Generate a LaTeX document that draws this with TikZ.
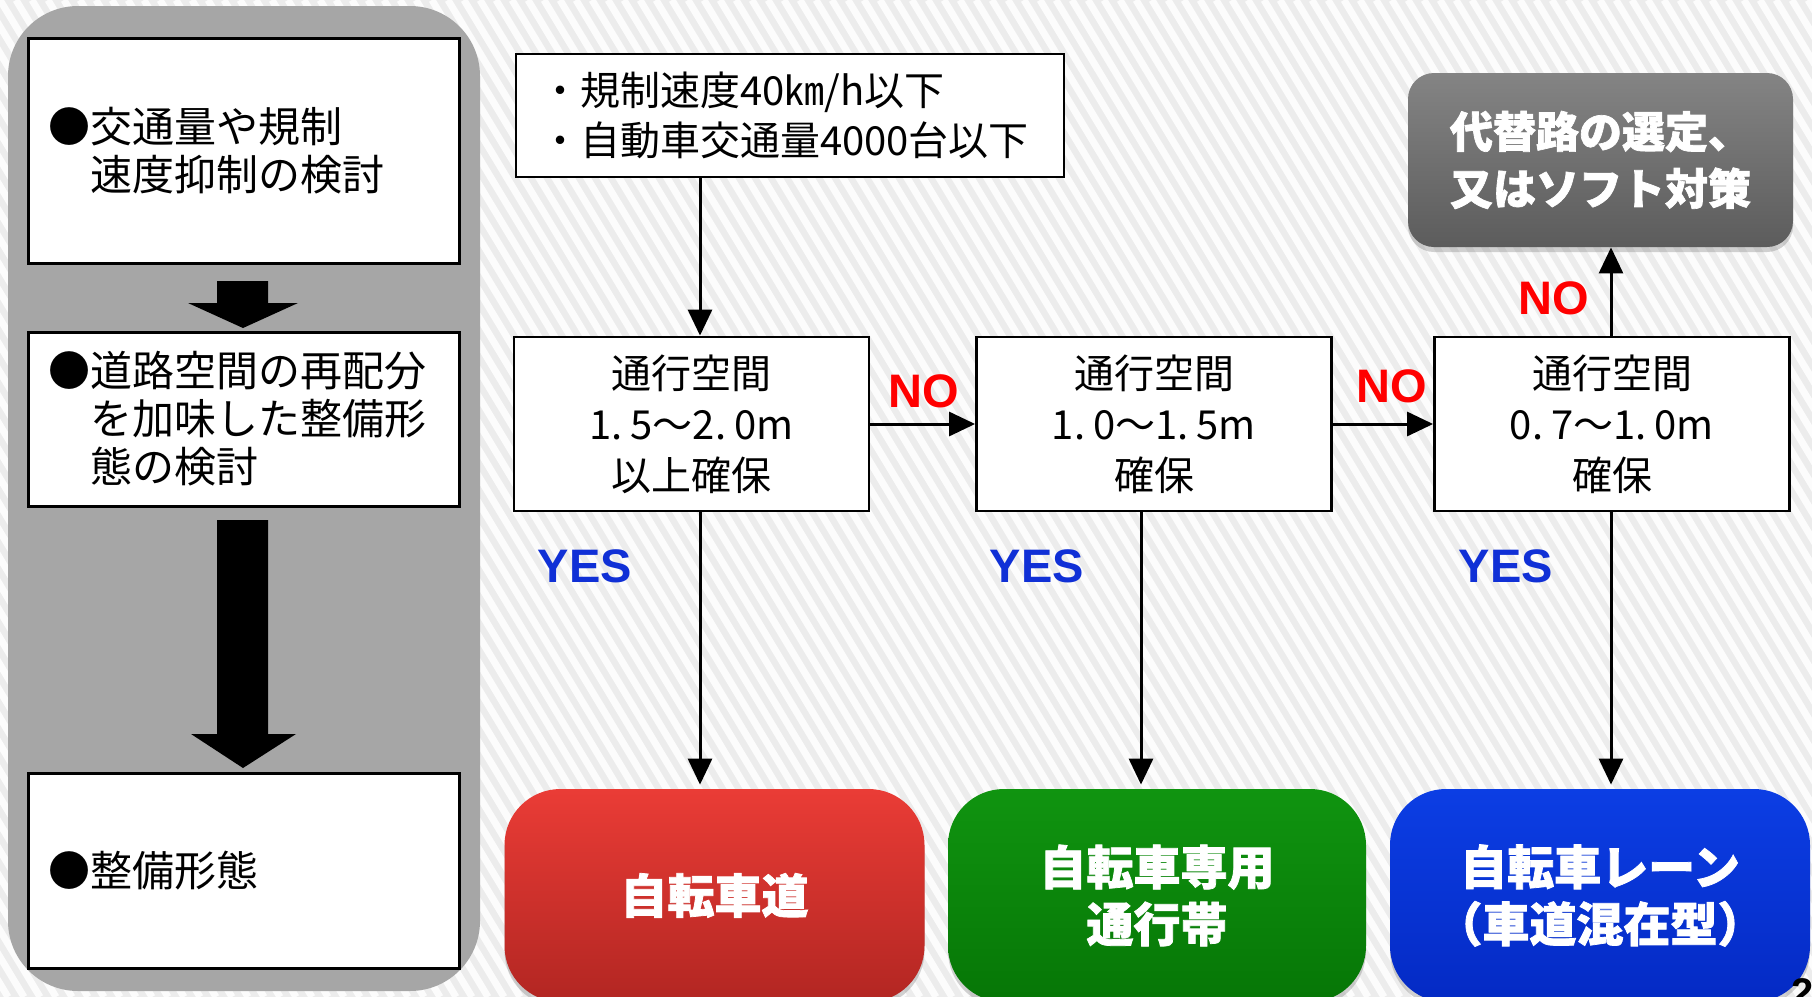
\documentclass[tikz,border=0pt]{standalone}
\usepackage{fontspec}
\setmainfont{Liberation Sans}
\newfontfamily\jp{Noto Sans CJK JP}
\newfontfamily\jpheavy{Noto Sans CJK JP}[BoldFeatures={FakeBold=1.6}]
\usetikzlibrary{arrows.meta,shadows,calc}

\definecolor{bgc}{RGB}{236,236,236}
\definecolor{stripe}{RGB}{252,252,252}
\definecolor{panel}{RGB}{166,166,166}
\definecolor{nored}{RGB}{255,0,0}
\definecolor{yesblue}{RGB}{16,48,214}
\definecolor{redtop}{RGB}{234,60,54}
\definecolor{redbot}{RGB}{178,38,34}
\definecolor{greentop}{RGB}{16,148,16}
\definecolor{greenbot}{RGB}{6,118,6}
\definecolor{bluetop}{RGB}{12,62,228}
\definecolor{bluebot}{RGB}{4,42,196}
\definecolor{graytop}{RGB}{132,132,132}
\definecolor{graybot}{RGB}{92,92,92}

\begin{document}
\begin{tikzpicture}[x=0.5pt,y=-0.5pt,
  lbox/.style={draw=black, line width=1.5pt, fill=white, minimum width=215.5pt, text width=195pt, inner xsep=10pt, align=left, font=\jp\fontsize{21pt}{24pt}\selectfont},
  cbox/.style={draw=black, line width=1.4pt, fill=white, minimum width=177.5pt, minimum height=87pt, align=center, font=\jp\fontsize{20pt}{25.5pt}\selectfont},
  res/.style={rounded corners=28pt, minimum width=210pt, minimum height=106.5pt, align=center, text=white, font=\jpheavy\bfseries\fontsize{23.5pt}{28.5pt}\selectfont, drop shadow={opacity=0.35, shadow xshift=0pt, shadow yshift=-2.5pt}},
  arr/.style={line width=1.5pt, -{Triangle[width=12pt,length=13pt]}},
  nolab/.style={text=nored, font=\bfseries\fontsize{23.5pt}{23.5pt}\selectfont},
  yeslab/.style={text=yesblue, font=\bfseries\fontsize{23.5pt}{23.5pt}\selectfont}
]
% background with diagonal stripes
\fill[bgc] (0,0) rectangle (1812,997);
\begin{scope}
\clip (0,0) rectangle (1812,997);
\foreach \i in {-40,...,114} \draw[stripe, line width=3.5pt] (\i*16,0) -- ++(600,997);
\end{scope}
\useasboundingbox (0,0) rectangle (1812,997);

% left panel
\fill[panel, rounded corners=35pt] (8,6) rectangle (480,991);
\node[lbox, minimum height=112.5pt] (b1) at (243.5,150.5) {●交通量や規制\\　速度抑制の検討};
\node[lbox, minimum height=87pt] (b2) at (243.5,419) {●道路空間の再配分\\　を加味した整備形\\　態の検討};
\node[lbox, minimum height=97.5pt] (b3) at (243.5,870.5) {●整備形態};
\fill (217,281) -- (268,281) -- (268,303) -- (298,303) -- (243,328) -- (188,303) -- (217,303) -- cycle;
\fill (217,520) -- (268,520) -- (268,734) -- (296,734) -- (243,768) -- (191,734) -- (217,734) -- cycle;

% right flow
\node[cbox, minimum width=274pt, minimum height=61.5pt, align=left, inner xsep=10.5pt, text width=250pt, font=\jp\fontsize{20pt}{25pt}\selectfont] (top) at (790,115.5) {・規制速度40㎞/h以下\\・自動車交通量4000台以下};
\node[cbox] (A) at (691.5,424) {通行空間\\1.\hspace{.2em}5～2.\hspace{.2em}0m\\以上確保};
\node[cbox] (B) at (1154,424) {通行空間\\1.\hspace{.2em}0～1.\hspace{.2em}5m\\確保};
\node[cbox] (C) at (1612,424) {通行空間\\0.\hspace{.2em}7～1.\hspace{.2em}0m\\確保};

\node[res, top color=graytop, bottom color=graybot, minimum width=192.5pt, minimum height=87pt, rounded corners=13pt, font=\jpheavy\bfseries\fontsize{21.5pt}{28.5pt}\selectfont] (alt) at (1600.5,160) {代替路の選定、\\又はソフト対策};
\node[res, top color=redtop, bottom color=redbot] (red) at (714.5,895.5) {自転車道};
\node[res, top color=greentop, bottom color=greenbot, minimum width=209pt] (green) at (1157,895.5) {自転車専用\\通行帯};
\node[res, top color=bluetop, bottom color=bluebot] (blue) at (1600,895.5) {自転車レーン\\（車道混在型）};

\coordinate (xA) at (700,0);
\coordinate (xB) at (1141,0);
\coordinate (xC) at (1611,0);

\draw[arr] (top.south -| xA) -- (A.north -| xA);
\draw[arr] (A) -- (B);
\draw[arr] (B) -- (C);
\draw[arr] (C.north -| xC) -- (alt.south -| xC);
\draw[arr, shorten >=2pt] (A.south -| xA) -- (red.north -| xA);
\draw[arr, shorten >=2pt] (B.south -| xB) -- (green.north -| xB);
\draw[arr, shorten >=2pt] (C.south -| xC) -- (blue.north -| xC);

\node[nolab] (no1) at (924,391) {NO};
\node[nolab] (no2) at (1392,386) {NO};
\node[nolab] (no3) at (1554,298) {NO};
\node[yeslab] (yes1) at (585,566) {YES};
\node[yeslab] (yes2) at (1037,566) {YES};
\node[yeslab] (yes3) at (1506,566) {YES};

\node[anchor=north west, inner sep=0pt, font=\bfseries\fontsize{20pt}{20pt}\selectfont] (pg) at (1791,978) {2};
\end{tikzpicture}
\end{document}
